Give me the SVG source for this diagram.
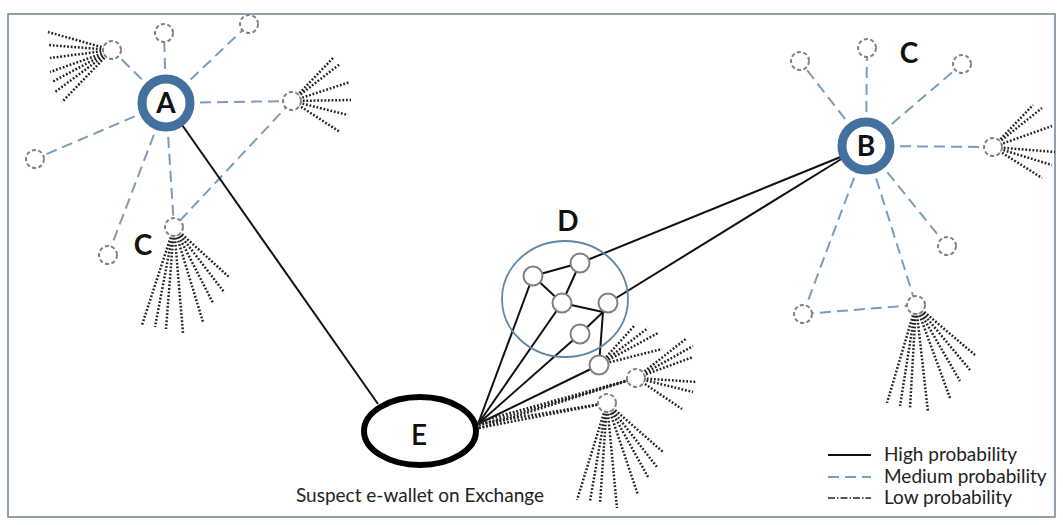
<svg xmlns="http://www.w3.org/2000/svg" width="1063" height="525" viewBox="0 0 1063 525">
<style>
.hi{stroke:#111;stroke-width:2;fill:none}
.med{stroke:#7b9dbd;stroke-width:2;stroke-dasharray:11 6;fill:none}
.low{stroke:#222;stroke-width:2.5;stroke-dasharray:1.8 1.8;fill:none}
.lowl{stroke:#222;stroke-width:1.5;stroke-dasharray:7 2 1.5 2;fill:none}
.sn{fill:#fff;stroke:#808080;stroke-width:2;stroke-dasharray:4 2.5}
.dn{fill:#fff;stroke:#808080;stroke-width:2}
.hub{fill:#fff;stroke:#44709e;stroke-width:9}
.big{font-family:Lato,"Liberation Sans",sans-serif;font-weight:bold;font-size:28px;fill:#111;text-anchor:middle}
.lbl{font-family:Lato,"Liberation Sans",sans-serif;font-size:19px;fill:#222}
</style>
<rect x="0" y="0" width="1063" height="525" fill="#fff"/>
<rect x="8" y="14" width="1047" height="503" fill="#fff" stroke="#6f8294" stroke-width="1.5"/>
<g id="connectors">
  <line class="med" x1="166" y1="103" x2="164" y2="33"/>
  <line class="med" x1="166" y1="103" x2="112" y2="50"/>
  <line class="med" x1="166" y1="103" x2="249" y2="24"/>
  <line class="med" x1="166" y1="103" x2="292" y2="101"/>
  <line class="med" x1="166" y1="103" x2="35" y2="159"/>
  <line class="med" x1="166" y1="103" x2="108" y2="255"/>
  <line class="med" x1="166" y1="103" x2="174" y2="227"/>
  <line class="med" x1="292" y1="101" x2="174" y2="227"/>
  <line class="med" x1="866" y1="146" x2="800" y2="61"/>
  <line class="med" x1="866" y1="146" x2="867" y2="48"/>
  <line class="med" x1="866" y1="146" x2="962" y2="64"/>
  <line class="med" x1="866" y1="146" x2="993" y2="147"/>
  <line class="med" x1="866" y1="146" x2="947" y2="246"/>
  <line class="med" x1="866" y1="146" x2="916" y2="305"/>
  <line class="med" x1="866" y1="146" x2="803" y2="314"/>
  <line class="med" x1="803" y1="314" x2="916" y2="305"/>
  <line class="hi" x1="180" y1="122" x2="378" y2="404"/>
  <line class="hi" x1="580" y1="263" x2="843" y2="156"/>
  <line class="hi" x1="608" y1="303" x2="843" y2="158"/>
  <line class="hi" x1="478" y1="424" x2="533" y2="276"/>
  <line class="hi" x1="478" y1="424" x2="562" y2="303"/>
  <line class="hi" x1="478" y1="424" x2="580" y2="334"/>
  <line class="hi" x1="478" y1="424" x2="599" y2="365"/>
  <line class="hi" x1="533" y1="276" x2="580" y2="263"/>
  <line class="hi" x1="533" y1="276" x2="562" y2="303"/>
  <line class="hi" x1="580" y1="263" x2="562" y2="303"/>
  <line class="hi" x1="562" y1="303" x2="603" y2="312"/>
  <line class="hi" x1="580" y1="334" x2="603" y2="312"/>
  <line class="hi" x1="603" y1="312" x2="599" y2="365"/>
  <line class="low" x1="478" y1="422" x2="636" y2="378"/>
  <line class="low" x1="479" y1="425" x2="636" y2="378"/>
  <line class="low" x1="479" y1="428" x2="636" y2="378"/>
  <line class="low" x1="478" y1="424" x2="607" y2="403"/>
  <line class="low" x1="479" y1="428" x2="607" y2="403"/>
  <g class="low">
    <path d="M112 50L48 32M112 50L48 45M112 50L50 58M112 50L50 72M112 50L52 82M112 50L55 92M112 50L62 102"/>
    <path d="M292 101L333 58M292 101L340 64M292 101L350 82M292 101L351 100M292 101L348 115M292 101L340 132"/>
    <path d="M174 227L142 325M174 227L155 327M174 227L166 329M174 227L183 333M174 227L203 322M174 227L213 303M174 227L224 292M174 227L229 277"/>
    <path d="M993 147L1033 105M993 147L1042 108M993 147L1052 126M993 147L1055 152M993 147L1052 165M993 147L1042 178"/>
    <path d="M916 305L887 403M916 305L900 406M916 305L910 408M916 305L928 412M916 305L950 398M916 305L960 381M916 305L970 370M916 305L975 355"/>
    <path d="M599 365L635 325M599 365L648 328M599 365L658 333M599 365L662 349"/>
    <path d="M636 378L687 338M636 378L693 346M636 378L693 357M636 378L697 382M636 378L693 392M636 378L682 409"/>
    <path d="M607 403L577 500M607 403L590 501M607 403L600 503M607 403L617 508M607 403L638 495M607 403L648 477M607 403L657 467M607 403L663 452"/>
  </g>
</g>
<g id="A">
  <circle class="hub" cx="166" cy="103" r="24"/>
  <text class="big" x="166" y="113" font-size="29">A</text>
</g>
<g id="A-children">
  <circle class="sn" cx="164" cy="33" r="9"/>
  <circle class="sn" cx="112" cy="50" r="9"/>
  <circle class="sn" cx="249" cy="24" r="9"/>
  <circle class="sn" cx="292" cy="101" r="9"/>
  <circle class="sn" cx="35" cy="159" r="9"/>
  <circle class="sn" cx="108" cy="255" r="9"/>
  <circle class="sn" cx="174" cy="227" r="9"/>
</g>
<g id="C-left"><text class="big" x="143" y="255" font-size="27">C</text></g>
<g id="B">
  <circle class="hub" cx="866" cy="146" r="24"/>
  <text class="big" x="866" y="156">B</text>
</g>
<g id="B-children">
  <circle class="sn" cx="800" cy="61" r="9"/>
  <circle class="sn" cx="867" cy="48" r="9"/>
  <circle class="sn" cx="962" cy="64" r="9"/>
  <circle class="sn" cx="993" cy="147" r="9"/>
  <circle class="sn" cx="947" cy="246" r="9"/>
  <circle class="sn" cx="916" cy="305" r="9"/>
  <circle class="sn" cx="803" cy="314" r="9"/>
</g>
<g id="C-right"><text class="big" x="909" y="63" font-size="26">C</text></g>
<g id="D">
  <ellipse cx="565" cy="299" rx="63" ry="58" fill="none" stroke="#5f88a8" stroke-width="1.8"/>
  <text class="big" x="568" y="231" font-size="25">D</text>
  <circle class="dn" cx="533" cy="276" r="9.5"/>
  <circle class="dn" cx="580" cy="263" r="9.5"/>
  <circle class="dn" cx="562" cy="303" r="9.5"/>
  <circle class="dn" cx="608" cy="303" r="9.5"/>
  <circle class="dn" cx="580" cy="334" r="9.5"/>
  <circle class="dn" cx="599" cy="365" r="9.5"/>
</g>
<g id="low-nodes">
  <circle class="sn" cx="636" cy="378" r="9"/>
  <circle class="sn" cx="607" cy="403" r="9"/>
</g>
<g id="E">
  <ellipse cx="420" cy="431" rx="56" ry="34" fill="#fff" stroke="#000" stroke-width="6"/>
  <text class="big" x="419" y="445" font-size="31" style="font-weight:600">E</text>
  <text class="lbl" x="420" y="502" text-anchor="middle" font-size="20">Suspect e-wallet on Exchange</text>
</g>
<g id="legend">
  <line class="hi" x1="828" y1="455" x2="871" y2="455" stroke-width="1.5"/>
  <line class="med" x1="828" y1="477" x2="871" y2="477" stroke-width="1.5" stroke-dasharray="14 5"/>
  <line class="lowl" x1="828" y1="498" x2="871" y2="498"/>
  <text class="lbl" x="884" y="461">High probability</text>
  <text class="lbl" x="884" y="483">Medium probability</text>
  <text class="lbl" x="884" y="504">Low probability</text>
</g>
</svg>
